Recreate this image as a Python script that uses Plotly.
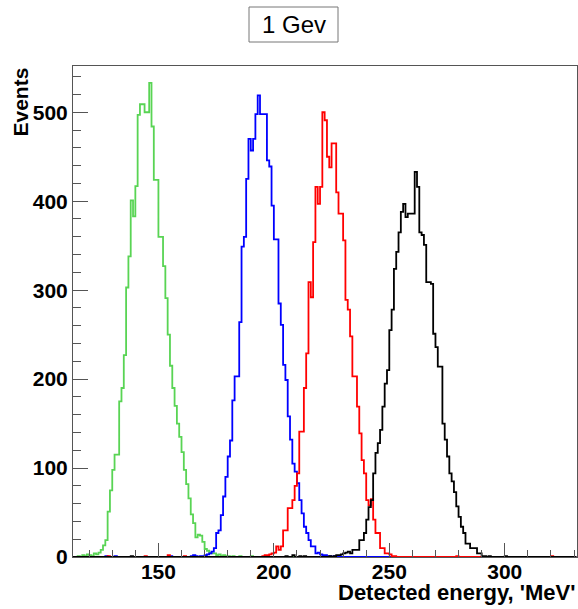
import plotly.graph_objects as go

# ---------------- data (1 MeV bins, value = counts in bin [b, b+1)) ----------------
X_FIRST_EDGE = 113
X_LAST_EDGE = 331

GREEN_START = 115
GREEN_COUNTS = [1, 0, 2, 1, 3, 2, 1, 4, 3, 5, 8, 13, 19, 51, 75, 98, 115, 115, 175, 190,
                227, 303, 338, 401, 383, 417, 497, 509, 509, 500, 500, 533, 484, 424, 424,
                360, 360, 327, 291, 250, 215, 190, 170, 150, 135, 118, 98, 82, 66, 48, 38,
                22, 25, 24, 17, 9, 7, 5, 4, 4, 2, 3, 1, 2, 1, 1, 0, 1]
GREEN_STRAY_BINS = [185, 190]
GREEN_STRAY_COUNTS = [1, 1]

BLUE_START = 164
BLUE_COUNTS = [1, 2, 1, 0, 1, 1, 2, 3, 4, 6, 10, 27, 30, 47, 68, 90, 113, 131, 176, 203,
               203, 264, 349, 360, 425, 470, 457, 470, 498, 519, 498, 498, 498, 446, 439,
               395, 357, 357, 285, 261, 216, 199, 158, 132, 105, 96, 83, 64, 49, 34, 27,
               19, 12, 12, 4, 5, 3, 2, 2, 1, 1, 0, 1]
BLUE_STRAY_BINS = [127, 131, 155]
BLUE_STRAY_COUNTS = [1, 1, 1]

RED_START = 195
RED_COUNTS = [1, 2, 2, 3, 4, 5, 12, 8, 12, 30, 30, 55, 55, 64, 80, 94, 141, 141, 190, 229,
              309, 292, 354, 416, 397, 416, 500, 491, 450, 438, 465, 465, 410, 386, 386,
              356, 289, 278, 248, 203, 203, 169, 139, 109, 94, 64, 58, 65, 42, 27, 27, 10,
              10, 4, 4, 3, 1, 1]
RED_STRAY_BINS = [128, 144, 154, 161, 279, 320]
RED_STRAY_COUNTS = [1, 1, 2, 1, 1, 1]

BLACK_START = 224
BLACK_COUNTS = [1, 0, 1, 2, 2, 3, 4, 5, 6, 4, 8, 8, 8, 19, 19, 27, 42, 56, 64, 94, 117, 128,
                143, 169, 195, 210, 255, 278, 324, 343, 365, 388, 397, 382, 386, 386, 386,
                433, 416, 365, 362, 351, 309, 309, 307, 251, 236, 214, 214, 150, 132, 113,
                94, 85, 73, 57, 45, 34, 27, 15, 15, 10, 10, 10, 4, 4, 1, 1, 0, 1]
BLACK_STRAY_BINS = [138, 205, 208, 211, 213, 300]
BLACK_STRAY_COUNTS = [1, 1, 2, 1, 1, 1]

X_TICKS = [150, 200, 250, 300]
Y_TICKS = [0, 100, 200, 300, 400, 500]

TITLE = "1 Gev"
X_TITLE = "Detected energy, 'MeV'"
Y_TITLE = "Events"

SERIES = [
    ("green", GREEN_START, GREEN_COUNTS, GREEN_STRAY_BINS, GREEN_STRAY_COUNTS, "rgb(89,212,84)"),
    ("blue", BLUE_START, BLUE_COUNTS, BLUE_STRAY_BINS, BLUE_STRAY_COUNTS, "rgb(0,0,255)"),
    ("red", RED_START, RED_COUNTS, RED_STRAY_BINS, RED_STRAY_COUNTS, "rgb(255,0,0)"),
    ("black", BLACK_START, BLACK_COUNTS, BLACK_STRAY_BINS, BLACK_STRAY_COUNTS, "rgb(0,0,0)"),
]


def histogram_outline(start, counts, stray_bins, stray_counts):
    nbins = X_LAST_EDGE - X_FIRST_EDGE
    full = [0] * nbins
    for i, c in enumerate(counts):
        full[start - X_FIRST_EDGE + i] = c
    for b, c in zip(stray_bins, stray_counts):
        full[b - X_FIRST_EDGE] = c
    edges = list(range(X_FIRST_EDGE, X_LAST_EDGE + 1))
    return edges, full + [full[-1]]


fig = go.Figure()
for name, start, counts, sb, sc, color in SERIES:
    x, y = histogram_outline(start, counts, sb, sc)
    fig.add_trace(go.Scatter(x=x, y=y, mode="lines", name=name,
                             line=dict(color=color, width=1.8, shape="hv"),
                             showlegend=False, hoverinfo="skip"))

FONT = "Liberation Sans, Arial, sans-serif"
AXCOL = "#555555"

fig.update_layout(
    width=578, height=609,
    margin=dict(l=73, r=1, t=66, b=52, pad=0),
    paper_bgcolor="white", plot_bgcolor="white",
    font=dict(family=FONT, color="black"),
    xaxis=dict(range=[113.0, 331.3], tickmode="array", tickvals=X_TICKS,
               ticktext=[str(v) for v in X_TICKS],
               ticks="inside", ticklen=14, tickwidth=1, tickcolor=AXCOL,
               ticklabelstandoff=-4,
               minor=dict(dtick=10, tick0=0, ticks="inside", ticklen=7,
                          tickcolor=AXCOL, tickwidth=1, showgrid=False),
               showgrid=False, zeroline=False, showline=True, linecolor=AXCOL,
               linewidth=1, mirror=True,
               tickfont=dict(family=FONT, size=21, weight="bold", color="black")),
    yaxis=dict(range=[0, 552], tickmode="array", tickvals=Y_TICKS,
               ticktext=[str(v) for v in Y_TICKS],
               ticks="inside", ticklen=15, tickwidth=1, tickcolor=AXCOL,
               minor=dict(dtick=20, tick0=0, ticks="inside", ticklen=8,
                          tickcolor=AXCOL, tickwidth=1, showgrid=False),
               showgrid=False, zeroline=False, showline=True, linecolor=AXCOL,
               linewidth=1, mirror=True,
               tickfont=dict(family=FONT, size=21, weight="bold", color="black")),
)

# title box
fig.add_shape(type="rect", xref="paper", yref="paper",
              x0=(249 - 73) / 504, x1=(338 - 73) / 504,
              y0=(557 - 42) / 491, y1=(557 - 7) / 491,
              line=dict(color="#777777", width=1), fillcolor="white", layer="above")
fig.add_annotation(text=TITLE, xref="paper", yref="paper",
                   x=(293.5 - 73) / 504, y=(557 - 25) / 491,
                   xanchor="center", yanchor="middle", showarrow=False,
                   font=dict(family=FONT, size=24, color="black"))
# axis titles
fig.add_annotation(text=X_TITLE, xref="paper", yref="paper", x=1.0,
                   y=(557 - 592) / 491, xanchor="right", yanchor="middle",
                   showarrow=False,
                   font=dict(family=FONT, size=22, weight="bold", color="black"))
fig.add_annotation(text=Y_TITLE, xref="paper", yref="paper", x=(20 - 73) / 504,
                   y=1.0, xanchor="center", yanchor="top", textangle=-90,
                   showarrow=False,
                   font=dict(family=FONT, size=21, weight="bold", color="black"))

fig.write_html("out.html", config={"displayModeBar": False},
               post_script="document.body.style.margin='0';"
                           "document.body.style.overflow='hidden';")
